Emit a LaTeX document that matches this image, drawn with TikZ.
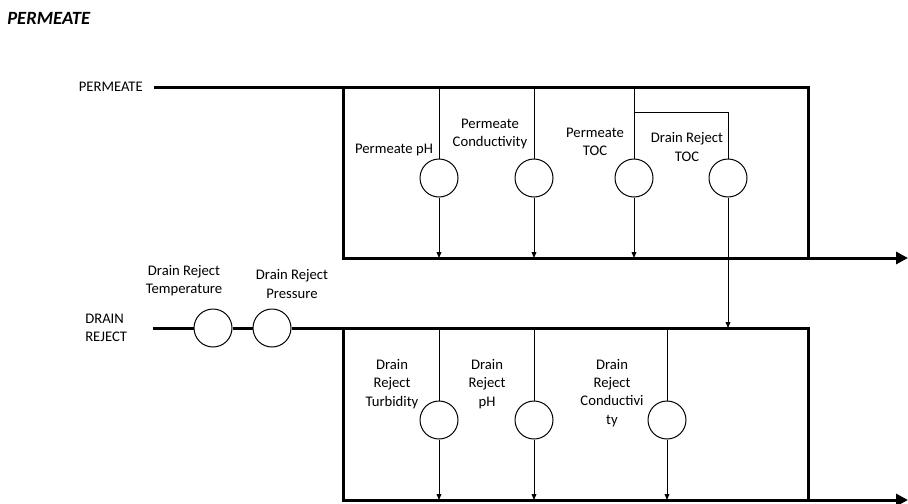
\documentclass[tikz,border=0pt]{standalone}
\usepackage{fontspec}
\setmainfont{Carlito}
\usetikzlibrary{arrows.meta}
\begin{document}
\begin{tikzpicture}[x=0.75pt,y=-0.75pt,
  pipe/.style={line width=2.25pt, line join=miter},
  tap/.style={line width=0.75pt},
  flowtip/.style={-{Triangle[length=9pt,width=9pt]}},
  sig/.style={-{Triangle[length=4.5pt,width=3.6pt]}},
  meter/.style={circle, draw, line width=0.75pt, fill=white, minimum size=28.5pt, inner sep=0pt},
  lbl/.style={font=\fontsize{11}{13.6}\selectfont, align=center, inner sep=0pt},
  heading/.style={font=\fontsize{14}{16}\selectfont\bfseries\itshape, inner sep=0pt},
]
\useasboundingbox (0,0) rectangle (908,504);

% heading
\node[heading, anchor=west] (title) at (7,18) {PERMEATE};

% ---------------- permeate header ----------------
\coordinate (pin) at (154,87);
\coordinate (ptr) at (808,87);
\coordinate (ptl) at (343,87);
\coordinate (pbl) at (343,258);
\coordinate (pbr) at (808,258);
\coordinate (pout) at (908,258);
\coordinate (pbranch) at (634,112);

\node[lbl, anchor=east] (plabel) at (143,87) {PERMEATE};

\draw[pipe] (pin) -- (ptr) -- (pbr);
\draw[pipe, flowtip] (ptl) -- (pbl) -- (pout);

\node[meter] (pph)   at (439,178) {};
\node[meter] (pcond) at (534,178) {};
\node[meter] (ptoc)  at (634,178) {};
\node[meter] (dtoc)  at (728,178) {};

\node[lbl] (lpph)   at (394,150) {Permeate pH};
\node[lbl] (lpcond) at (490,134) {Permeate\\Conductivity};
\node[lbl] (lptoc)  at (595,142) {Permeate\\TOC};
\node[lbl] (ldtoc)  at (687,147) {Drain Reject\\TOC};

\foreach \m in {pph,pcond,ptoc}{
  \draw[tap] (\m |- pin) -- (\m.north);
  \draw[tap, sig] (\m.south) -- (\m |- pbl);
}
\draw[tap] (pbranch) -- (dtoc |- pbranch) -- (dtoc.north);

% ---------------- drain reject header ----------------
\coordinate (rin) at (153,328);
\coordinate (rtr) at (808,328);
\coordinate (rtl) at (343,328);
\coordinate (rbl) at (343,500);
\coordinate (rbr) at (808,500);
\coordinate (rout) at (908,500);

\node[lbl, anchor=west, align=left] (rlabel) at (85,328) {DRAIN\\REJECT};

\node[meter] (rtemp)  at (213,328) {};
\node[meter] (rpress) at (272,328) {};

\draw[pipe] (rin) -- (rtemp.west);
\draw[pipe] (rtemp.east) -- (rpress.west);
\draw[pipe] (rpress.east) -- (rtr) -- (rbr);
\draw[pipe, flowtip] (rtl) -- (rbl) -- (rout);

\node[lbl] (lrtemp)  at (184,281) {Drain Reject\\Temperature};
\node[lbl] (lrpress) at (292,284) {Drain Reject\\Pressure};

\node[meter] (rturb) at (439,420) {};
\node[meter] (rph)   at (534,420) {};
\node[meter] (rcond) at (667,420) {};

\node[lbl] (lrturb) at (392,384) {Drain\\Reject\\Turbidity};
\node[lbl] (lrph)   at (487,384) {Drain\\Reject\\pH};
\node[lbl] (lrcond) at (612,393) {Drain\\Reject\\Conductivi\\ty};

\foreach \m in {rturb,rph,rcond}{
  \draw[tap] (\m |- rin) -- (\m.north);
  \draw[tap, sig] (\m.south) -- (\m |- rbl);
}

% drain reject TOC sample taken downstream into the drain header
\draw[tap, sig] (dtoc.south) -- (dtoc |- rin);
\end{tikzpicture}
\end{document}
